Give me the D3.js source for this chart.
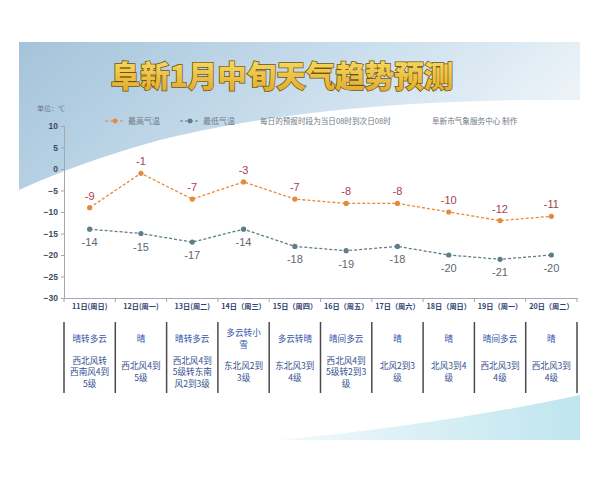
<!DOCTYPE html>
<html>
<head>
<meta charset="utf-8">
<script src="https://cdn.jsdelivr.net/npm/d3@7"></script>
<style>
  body { margin: 0; background: #fff; }
  svg text { font-family: "Noto Sans CJK SC", "Noto Sans", sans-serif; }
</style>
</head>
<body>
<div id="chart"></div>
<script>
// data
var days = ["11日(周日)", "12日(周一)", "13日(周二)", "14日（周三）", "15日（周四）",
            "16日（周五）", "17日（周六）", "18日（周日）", "19日（周一）", "20日（周二）"];
var highTemp = [-9, -1, -7, -3, -7, -8, -8, -10, -12, -11];
var lowTemp = [-14, -15, -17, -14, -18, -19, -18, -20, -21, -20];
var yTicks = [10, 5, 0, -5, -10, -15, -20, -25, -30];
var weather = ["晴转多云", "晴", "晴转多云", "多云转小/雪", "多云转晴",
               "晴间多云", "晴", "晴", "晴间多云", "晴"];
var wind = ["西北风转/西南风4到/5级", "西北风4到/5级", "西北风4到/5级转东南/风2到3级",
            "东北风2到/3级", "东北风3到/4级", "西北风4到/5级转2到3/级",
            "北风2到3/级", "北风3到4/级", "西北风3到/4级", "西北风3到/4级"];

var W = 600, H = 480;
var svg = d3.select("#chart").append("svg")
    .attr("width", W)
    .attr("height", H);

var defs = svg.append("defs");
var bg = defs.append("linearGradient").attr("id", "bgGrad")
    .attr("x1", 0).attr("y1", 0).attr("x2", 1).attr("y2", 0.3);
bg.append("stop").attr("offset", "0%").attr("stop-color", "#a4c3da");
bg.append("stop").attr("offset", "55%").attr("stop-color", "#c8ddec");
bg.append("stop").attr("offset", "100%").attr("stop-color", "#ecf3f8");

var gold = defs.append("linearGradient").attr("id", "goldGrad")
    .attr("x1", 0).attr("y1", 0).attr("x2", 0).attr("y2", 1);
gold.append("stop").attr("offset", "0%").attr("stop-color", "#fbe36a");
gold.append("stop").attr("offset", "100%").attr("stop-color", "#e0a626");

var swoosh = defs.append("linearGradient").attr("id", "swGrad")
    .attr("x1", 0).attr("y1", 0).attr("x2", 1).attr("y2", 0);
swoosh.append("stop").attr("offset", "0%").attr("stop-color", "#f2f9fb");
swoosh.append("stop").attr("offset", "100%").attr("stop-color", "#bfe5ef");

// background panel
svg.append("rect").attr("x", 19).attr("y", 42).attr("width", 561).attr("height", 398)
    .attr("fill", "#ffffff");
svg.append("path")
    .attr("d", "M19,42 H580 V100 Q330,98 160,140 Q80,162 19,190 Z")
    .attr("fill", "url(#bgGrad)");
svg.append("path")
    .attr("d", "M280,440 Q440,425 580,395 V440 Z")
    .attr("fill", "url(#swGrad)");

// title
svg.append("text")
    .attr("x", 282).attr("y", 87)
    .attr("text-anchor", "middle")
    .attr("font-size", 29.5).attr("font-weight", 900)
    .attr("fill", "url(#goldGrad)")
    .attr("stroke", "#6e5410").attr("stroke-width", 1.5)
    .attr("paint-order", "stroke")
    .text("阜新1月中旬天气趋势预测");

// scales
var x = d3.scaleBand().domain(days).range([64, 577]);
var y = d3.scaleLinear().domain([-30, 10]).range([298, 126]);
var cx = function(d, i) { return x(days[i]) + x.bandwidth() / 2; };

svg.append("text").attr("x", 37).attr("y", 111)
    .attr("font-size", 7).attr("fill", "#6a7a8a").text("单位：℃");

// y axis
var yAxis = svg.append("g")
    .attr("transform", "translate(64,0)")
    .call(d3.axisLeft(y).tickValues(yTicks).tickSize(3).tickPadding(3));
yAxis.select(".domain").attr("stroke", "#a0a8b0");
yAxis.selectAll(".tick line").attr("stroke", "#a0a8b0");
yAxis.selectAll("text").attr("font-size", 8.5).attr("font-weight", "bold")
    .attr("fill", "#3c4c60").style("font-family", "'Liberation Sans', Arial, sans-serif");

// x axis
var xAxis = svg.append("g")
    .attr("transform", "translate(0,298)")
    .call(d3.axisBottom(x).tickSize(0).tickPadding(6));
xAxis.select(".domain").attr("stroke", "#a0a8b0");
xAxis.selectAll("text").attr("font-size", 7.2).attr("font-weight", "bold").attr("fill", "#2e3f72");
svg.append("g").selectAll("line")
    .data(d3.range(days.length + 1))
    .join("line")
    .attr("x1", function(i) { return i < days.length ? x(days[i]) : 577; })
    .attr("x2", function(i) { return i < days.length ? x(days[i]) : 577; })
    .attr("y1", 298).attr("y2", 302)
    .attr("stroke", "#a0a8b0");

// lines
var line = d3.line().x(cx).y(function(d) { return y(d); });
var series = [
    { vals: highTemp, color: "#e38a3c", label: "#a8404e", dy: -8 },
    { vals: lowTemp, color: "#5d7d88", label: "#5f6670", dy: 17 }
];
series.forEach(function(s) {
    svg.append("path").datum(s.vals)
        .attr("d", line)
        .attr("fill", "none")
        .attr("stroke", s.color).attr("stroke-width", 1.3)
        .attr("stroke-dasharray", "3,2");
    svg.append("g").selectAll("circle").data(s.vals).join("circle")
        .attr("cx", cx).attr("cy", function(d) { return y(d); })
        .attr("r", 2.6).attr("fill", s.color);
    svg.append("g").selectAll("text").data(s.vals).join("text")
        .attr("x", cx).attr("y", function(d) { return y(d) + s.dy; })
        .attr("text-anchor", "middle")
        .attr("font-size", 11).attr("fill", s.label)
        .style("font-family", "'Liberation Sans', Arial, sans-serif")
        .text(function(d) { return d; });
});

// legend
var legend = [
    { name: "最高气温", color: "#e38a3c", x: 105 },
    { name: "最低气温", color: "#5d7d88", x: 180 }
];
legend.forEach(function(l) {
    svg.append("line").attr("x1", l.x).attr("x2", l.x + 20).attr("y1", 121).attr("y2", 121)
        .attr("stroke", l.color).attr("stroke-width", 1.2).attr("stroke-dasharray", "3,2");
    svg.append("circle").attr("cx", l.x + 10).attr("cy", 121).attr("r", 2.4).attr("fill", l.color);
    svg.append("text").attr("x", l.x + 23).attr("y", 124)
        .attr("font-size", 8).attr("fill", "#707a86").text(l.name);
});
svg.append("text").attr("x", 260).attr("y", 124)
    .attr("font-size", 7.6).attr("fill", "#707a86").text("每日的预报时段为当日08时到次日08时");
svg.append("text").attr("x", 432).attr("y", 124)
    .attr("font-size", 7.6).attr("fill", "#707a86").text("阜新市气象服务中心 制作");

// table below the chart
svg.append("g").selectAll("line")
    .data(d3.range(days.length + 1))
    .join("line")
    .attr("x1", function(i) { return i < days.length ? x(days[i]) : 577; })
    .attr("x2", function(i) { return i < days.length ? x(days[i]) : 577; })
    .attr("y1", 322).attr("y2", 393)
    .attr("stroke", "#4a4a4a").attr("stroke-width", 1.5);

function multiLine(rows, centerY, color) {
    var lh = 11.5;
    svg.append("g").selectAll("text").data(rows).join("text")
        .attr("x", cx)
        .attr("y", 0)
        .attr("text-anchor", "middle")
        .attr("font-size", 8.6).attr("fill", color)
        .each(function(d, i) {
            var parts = d.split("/");
            var top = centerY - (parts.length - 1) * lh / 2 + 3;
            d3.select(this).selectAll("tspan").data(parts).join("tspan")
                .attr("x", cx(d, i))
                .attr("y", function(p, j) { return top + j * lh; })
                .text(function(p) { return p; });
        });
}
multiLine(weather, 339, "#3253a6");
multiLine(wind, 372, "#34508e");
</script>
</body>
</html>
